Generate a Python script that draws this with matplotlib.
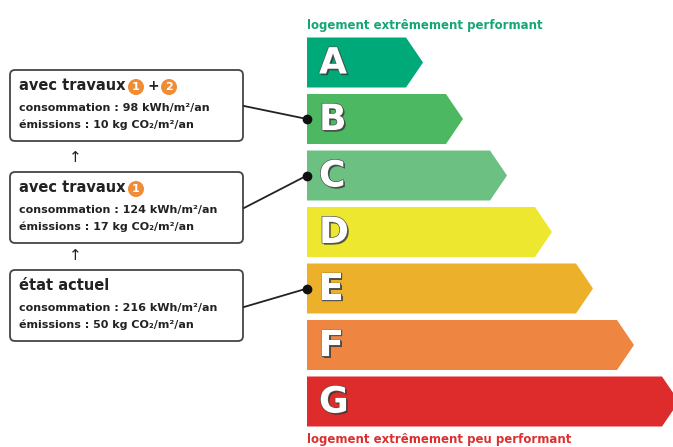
import matplotlib
matplotlib.use('Agg')
import matplotlib.pyplot as plt
import matplotlib.patheffects as pe
from matplotlib.patches import FancyBboxPatch, Circle, Polygon

# energy classes and the length of each arrow (px, tip included)
classes = ['A', 'B', 'C', 'D', 'E', 'F', 'G']
lengths = [116, 156, 200, 245, 286, 327, 372]
colors = ['#00aa78', '#4db862', '#6cc182', '#ede82f', '#ecb02b', '#ee8641', '#de2b2c']

top_label = 'logement extrêmement performant'
bottom_label = 'logement extrêmement peu performant'

# scenario boxes, top to bottom
titles = ['avec travaux', 'avec travaux', 'état actuel']
badges = [['1', '2'], ['1'], []]
conso = [98, 124, 216]
emis = [10, 17, 50]
target = ['B', 'C', 'E']

plt.rcParams['font.family'] = ['DejaVu Sans']

fig = plt.figure(figsize=(6.73, 4.47), dpi=100)
ax = fig.add_axes([0, 0, 1, 1])
ax.set_xlim(0, 673)
ax.set_ylim(447, 0)
ax.axis('off')

x0 = 307
top0 = 37.5
step = 56.5
h = 50
tip = 17

letter_fx = [pe.withSimplePatchShadow(offset=(1.2, -1.2), shadow_rgbFace='#333333', alpha=0.8),
             pe.Stroke(linewidth=1.0, foreground='#555555'), pe.Normal()]

for k, (cl, ln, col) in enumerate(zip(classes, lengths, colors)):
    y = top0 + k * step
    pts = [(x0, y), (x0 + ln - tip, y), (x0 + ln, y + h / 2),
           (x0 + ln - tip, y + h), (x0, y + h)]
    ax.add_patch(Polygon(pts, closed=True, facecolor=col, edgecolor='none'))
    ax.text(x0 + 12, y + h / 2 + 1, cl, fontsize=26, fontweight='bold', color='white',
            ha='left', va='center', path_effects=letter_fx)

ax.text(x0, 25, top_label, fontsize=8.5, fontweight='bold', color='#14a676',
        ha='left', va='center')
ax.text(x0, 439, bottom_label, fontsize=8.5, fontweight='bold', color='#dc3030',
        ha='left', va='center')

box_tops = [70, 172, 270]
box_h = 71
bx0, bx1 = 10, 243
line_start_y = [106, 208, 307]

for i in range(3):
    t = box_tops[i]
    ax.add_patch(FancyBboxPatch((bx0, t), bx1 - bx0, box_h,
                                boxstyle='round,pad=0,rounding_size=5',
                                facecolor='white', edgecolor='#444444', linewidth=1.3))
    ax.text(bx0 + 9, t + 16, titles[i], fontsize=10.5, fontweight='bold',
            color='#222222', ha='left', va='center')
    bx = 136
    for j, b in enumerate(badges[i]):
        if j > 0:
            ax.text(bx - 16, t + 16, '+', fontsize=10, fontweight='bold',
                    color='#222222', ha='center', va='center')
        ax.add_patch(Circle((bx, t + 17), 8, facecolor='#f08c35', edgecolor='none'))
        ax.text(bx, t + 17.5, b, fontsize=8, fontweight='bold', color='white',
                ha='center', va='center')
        bx += 33
    ax.text(bx0 + 9, t + 38, f'consommation : {conso[i]} kWh/m²/an', fontsize=8,
            fontweight='bold', color='#222222', ha='left', va='center')
    ax.text(bx0 + 9, t + 55, f'émissions : {emis[i]} kg CO₂/m²/an', fontsize=8,
            fontweight='bold', color='#222222', ha='left', va='center')

    # connector to the class arrow
    k = classes.index(target[i])
    ty = top0 + k * step + h / 2
    ax.plot([bx1 + 1, x0], [line_start_y[i], ty], color='#222222', linewidth=1.3)
    ax.plot([x0], [ty], marker='o', markersize=6, color='#111111')

for ya in [157, 256]:
    ax.text(75, ya, '↑', fontsize=11, color='#222222', ha='center', va='center')

fig.savefig('out.png', dpi=100)
